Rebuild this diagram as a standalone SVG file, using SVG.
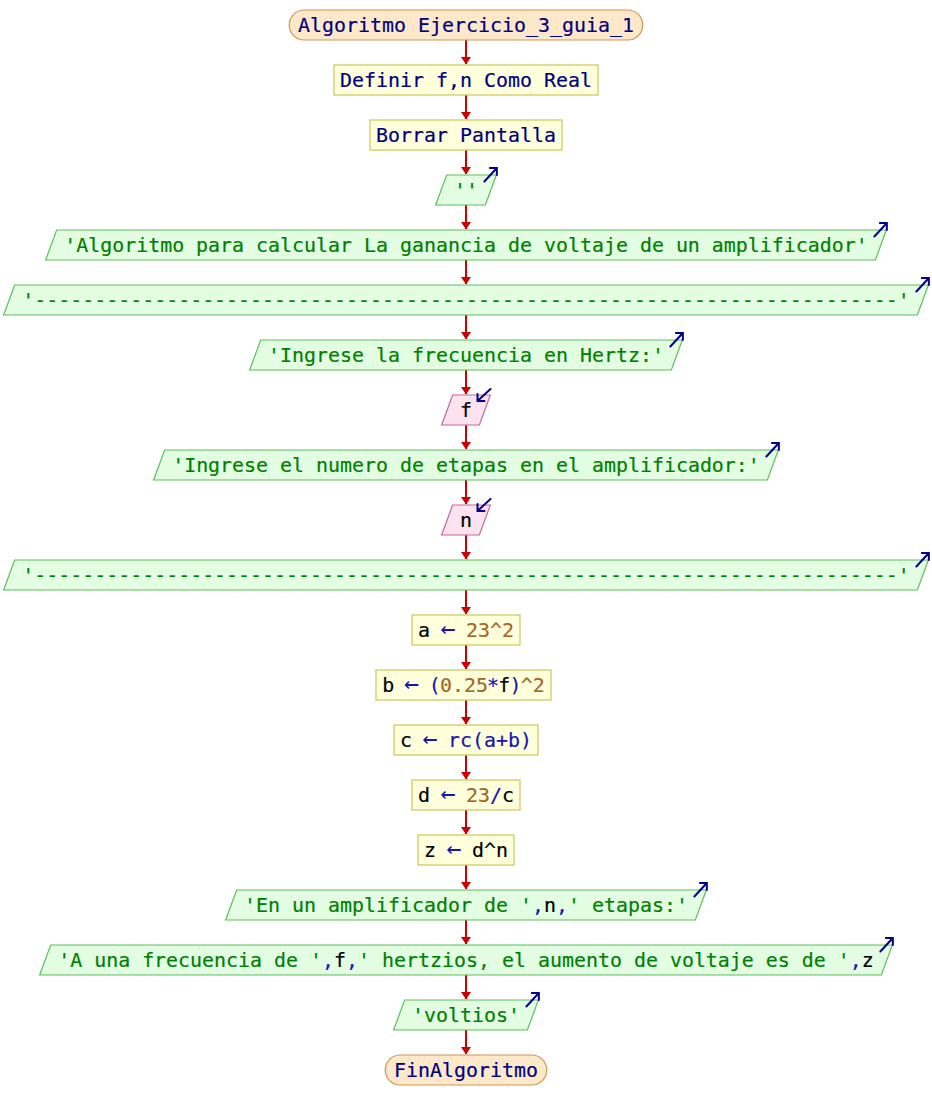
<svg xmlns="http://www.w3.org/2000/svg" xmlns:xlink="http://www.w3.org/1999/xlink" width="932" height="1120" viewBox="0 0 932 1120">
<style>
text{font-family:"DejaVu Sans Mono","Liberation Mono",monospace;font-size:19.93px;text-anchor:middle;stroke-width:0.2}
.term{fill:#fde9c9;stroke:#cf9650;stroke-width:1.2}
.proc{fill:#ffffdc;stroke:#c8c85a;stroke-width:1.2}
.out{fill:#e2fde2;stroke:#5cc05c;stroke-width:1.2}
.inp{fill:#fde3ef;stroke:#c8689a;stroke-width:1.2}
.kw{fill:#000080;stroke:#000080}
.str{fill:#008000;stroke:#008000}
.var{fill:#000000;stroke:#000000}
.op{fill:#1515b5;stroke:#1515b5}
.num{fill:#a06a28;stroke:#a06a28}
.arr{font-size:25px;stroke-width:0}
.conn line{stroke:#cc0000;stroke-width:2}
.icon{fill:none;stroke:#00008b;stroke-width:2;stroke-linecap:round}
</style>
<defs>
<marker id="ah" markerUnits="userSpaceOnUse" markerWidth="10" markerHeight="12" viewBox="-8 -6 10 12" refX="0" refY="0" orient="auto" overflow="visible">
<path d="M0.5,0 L-7,-5 L-7,5 Z" fill="#cc0000"/>
</marker>
<path id="outIcon" d="M-12.5,13.5 L0,0 M-7,0 L0,0 L0,7"/>
<path id="inIcon" d="M0,0 L13,-12 M7,0 L0,0 L0,-7"/>
</defs>

<g id="connectors" class="conn">
<line x1="466" y1="40" x2="466" y2="64" marker-end="url(#ah)"/>
<line x1="466" y1="95" x2="466" y2="119" marker-end="url(#ah)"/>
<line x1="466" y1="150" x2="466" y2="174" marker-end="url(#ah)"/>
<line x1="466" y1="205" x2="466" y2="229" marker-end="url(#ah)"/>
<line x1="466" y1="260" x2="466" y2="284" marker-end="url(#ah)"/>
<line x1="466" y1="315" x2="466" y2="339" marker-end="url(#ah)"/>
<line x1="466" y1="370" x2="466" y2="394" marker-end="url(#ah)"/>
<line x1="466" y1="425" x2="466" y2="449" marker-end="url(#ah)"/>
<line x1="466" y1="480" x2="466" y2="504" marker-end="url(#ah)"/>
<line x1="466" y1="535" x2="466" y2="559" marker-end="url(#ah)"/>
<line x1="466" y1="590" x2="466" y2="614" marker-end="url(#ah)"/>
<line x1="466" y1="645" x2="466" y2="669" marker-end="url(#ah)"/>
<line x1="466" y1="700" x2="466" y2="724" marker-end="url(#ah)"/>
<line x1="466" y1="755" x2="466" y2="779" marker-end="url(#ah)"/>
<line x1="466" y1="810" x2="466" y2="834" marker-end="url(#ah)"/>
<line x1="466" y1="865" x2="466" y2="889" marker-end="url(#ah)"/>
<line x1="466" y1="920" x2="466" y2="944" marker-end="url(#ah)"/>
<line x1="466" y1="975" x2="466" y2="999" marker-end="url(#ah)"/>
<line x1="466" y1="1030" x2="466" y2="1054" marker-end="url(#ah)"/>
</g>

<g id="n0">
<rect class="term" x="289.25" y="10" width="353.5" height="30" rx="15" ry="15"/>
<text x="466" y="32" class="kw">Algoritmo Ejercicio_3_guia_1</text>
</g>
<g id="n1">
<rect class="proc" x="334" y="65" width="264" height="30"/>
<text x="466" y="87" class="kw">Definir f,n Como Real</text>
</g>
<g id="n2">
<rect class="proc" x="370" y="120" width="192" height="30"/>
<text x="466" y="142" class="kw">Borrar Pantalla</text>
</g>
<g id="n3">
<polygon class="out" points="446.65,175 496.35,175 485.35,205 435.65,205"/>
<text x="466" y="197" class="str">''</text>
<use xlink:href="#outIcon" href="#outIcon" class="icon" x="496.85" y="168"/>
</g>
<g id="n4">
<polygon class="out" points="56.65,230 886.35,230 875.35,260 45.65,260"/>
<text x="466" y="252" class="str">'Algoritmo para calcular La ganancia de voltaje de un amplificador'</text>
<use xlink:href="#outIcon" href="#outIcon" class="icon" x="886.85" y="223"/>
</g>
<g id="n5">
<polygon class="out" points="14.65,285 928.35,285 917.35,315 3.65,315"/>
<text x="466" y="307" class="str">'------------------------------------------------------------------------'</text>
<use xlink:href="#outIcon" href="#outIcon" class="icon" x="928.85" y="278"/>
</g>
<g id="n6">
<polygon class="out" points="260.65,340 682.35,340 671.35,370 249.65,370"/>
<text x="466" y="362" class="str">'Ingrese la frecuencia en Hertz:'</text>
<use xlink:href="#outIcon" href="#outIcon" class="icon" x="682.85" y="333"/>
</g>
<g id="n7">
<polygon class="inp" points="452.65,395 490.35,395 479.35,425 441.65,425"/>
<text x="466" y="417" class="var">f</text>
<use xlink:href="#inIcon" href="#inIcon" class="icon" x="477.5" y="401"/>
</g>
<g id="n8">
<polygon class="out" points="164.65,450 778.35,450 767.35,480 153.65,480"/>
<text x="466" y="472" class="str">'Ingrese el numero de etapas en el amplificador:'</text>
<use xlink:href="#outIcon" href="#outIcon" class="icon" x="778.85" y="443"/>
</g>
<g id="n9">
<polygon class="inp" points="452.65,505 490.35,505 479.35,535 441.65,535"/>
<text x="466" y="527" class="var">n</text>
<use xlink:href="#inIcon" href="#inIcon" class="icon" x="477.5" y="511"/>
</g>
<g id="n10">
<polygon class="out" points="14.65,560 928.35,560 917.35,590 3.65,590"/>
<text x="466" y="582" class="str">'------------------------------------------------------------------------'</text>
<use xlink:href="#outIcon" href="#outIcon" class="icon" x="928.85" y="553"/>
</g>
<g id="n11">
<rect class="proc" x="412" y="615" width="108" height="30"/>
<text x="466" y="637"><tspan class="var">a</tspan><tspan class="op"> </tspan><tspan class="op arr" dx="-1.5">←</tspan><tspan class="op" dx="-1.5"> </tspan><tspan class="num">23^2</tspan></text>
</g>
<g id="n12">
<rect class="proc" x="376" y="670" width="175" height="30"/>
<text x="463.5" y="692"><tspan class="var">b</tspan><tspan class="op" dx="-0.8"> </tspan><tspan class="op arr" dx="-1.5">←</tspan><tspan class="op" dx="-1.5"> </tspan><tspan class="op" dx="-0.8">(</tspan><tspan class="num" dx="-0.8">0.25</tspan><tspan class="op" dx="-0.8">*</tspan><tspan class="var" dx="-0.8">f</tspan><tspan class="op" dx="-0.8">)</tspan><tspan class="num" dx="-0.8">^2</tspan></text>
</g>
<g id="n13">
<rect class="proc" x="394" y="725" width="144" height="30"/>
<text x="466" y="747"><tspan class="var">c</tspan><tspan class="op"> </tspan><tspan class="op arr" dx="-1.5">←</tspan><tspan class="op" dx="-1.5"> rc(a+b)</tspan></text>
</g>
<g id="n14">
<rect class="proc" x="412" y="780" width="108" height="30"/>
<text x="466" y="802"><tspan class="var">d</tspan><tspan class="op"> </tspan><tspan class="op arr" dx="-1.5">←</tspan><tspan class="op" dx="-1.5"> </tspan><tspan class="num">23</tspan><tspan class="op">/</tspan><tspan class="var">c</tspan></text>
</g>
<g id="n15">
<rect class="proc" x="418" y="835" width="96" height="30"/>
<text x="466" y="857"><tspan class="var">z</tspan><tspan class="op"> </tspan><tspan class="op arr" dx="-1.5">←</tspan><tspan class="op" dx="-1.5"> </tspan><tspan class="var">d^n</tspan></text>
</g>
<g id="n16">
<polygon class="out" points="236.65,890 706.35,890 695.35,920 225.65,920"/>
<text x="466" y="912"><tspan class="str">'En un amplificador de '</tspan><tspan class="op">,</tspan><tspan class="var">n</tspan><tspan class="op">,</tspan><tspan class="str">' etapas:'</tspan></text>
<use xlink:href="#outIcon" href="#outIcon" class="icon" x="706.85" y="883"/>
</g>
<g id="n17">
<polygon class="out" points="50.65,945 892.35,945 881.35,975 39.65,975"/>
<text x="466" y="967"><tspan class="str">'A una frecuencia de '</tspan><tspan class="op">,</tspan><tspan class="var">f</tspan><tspan class="op">,</tspan><tspan class="str">' hertzios, el aumento de voltaje es de '</tspan><tspan class="op">,</tspan><tspan class="var">z</tspan></text>
<use xlink:href="#outIcon" href="#outIcon" class="icon" x="892.85" y="938"/>
</g>
<g id="n18">
<polygon class="out" points="404.65,1000 538.35,1000 527.35,1030 393.65,1030"/>
<text x="466" y="1022" class="str">'voltios'</text>
<use xlink:href="#outIcon" href="#outIcon" class="icon" x="538.85" y="993"/>
</g>
<g id="n19">
<rect class="term" x="385.25" y="1055" width="161.5" height="30" rx="15" ry="15"/>
<text x="466" y="1077" class="kw">FinAlgoritmo</text>
</g>
</svg>
